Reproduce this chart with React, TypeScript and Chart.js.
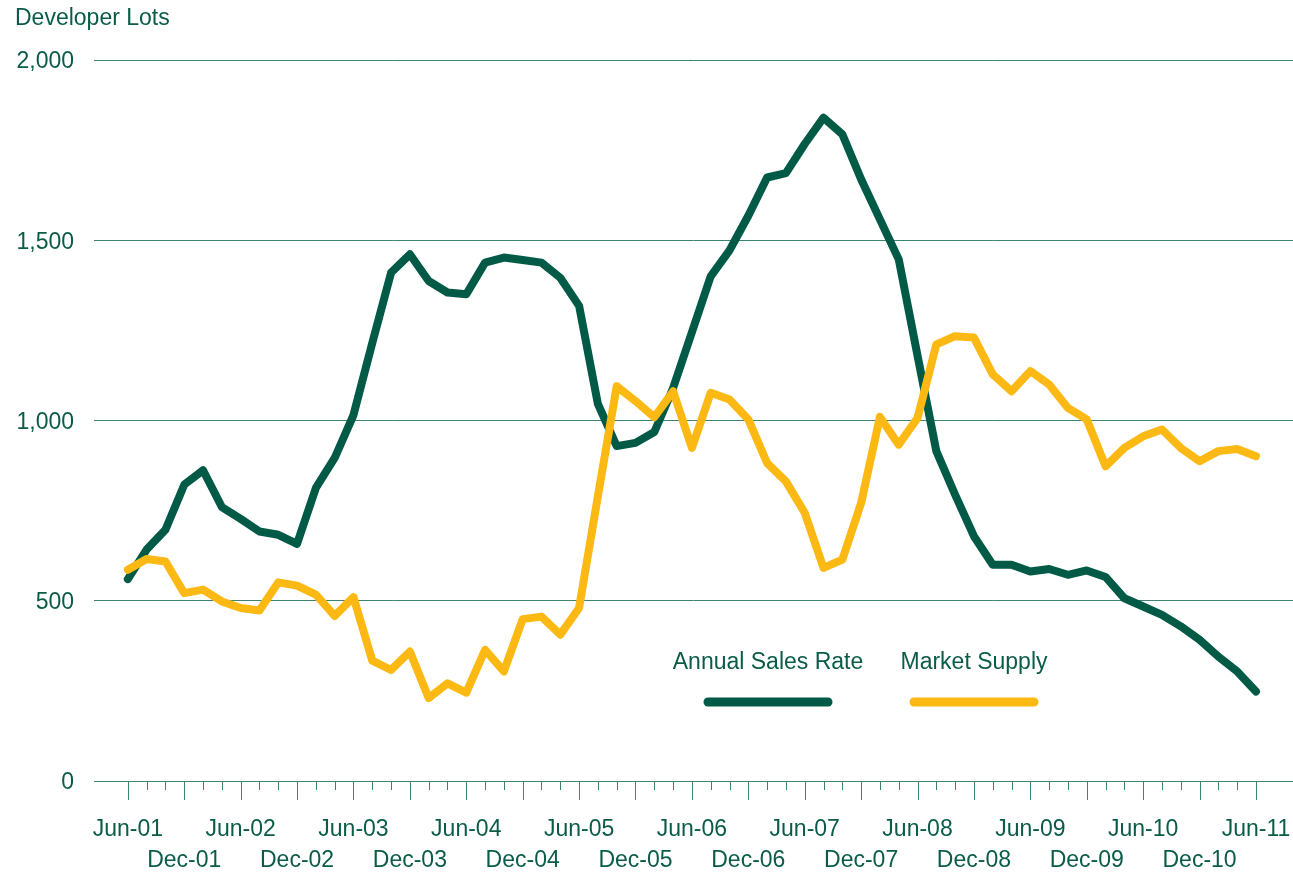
import React, { useEffect, useRef } from 'react';
import { Chart, registerables } from 'chart.js';

Chart.register(...registerables);

const periods = [
  'Jun-01', 'Aug-01', 'Oct-01', 'Dec-01', 'Feb-02', 'Apr-02',
  'Jun-02', 'Aug-02', 'Oct-02', 'Dec-02', 'Feb-03', 'Apr-03',
  'Jun-03', 'Aug-03', 'Oct-03', 'Dec-03', 'Feb-04', 'Apr-04',
  'Jun-04', 'Aug-04', 'Oct-04', 'Dec-04', 'Feb-05', 'Apr-05',
  'Jun-05', 'Aug-05', 'Oct-05', 'Dec-05', 'Feb-06', 'Apr-06',
  'Jun-06', 'Aug-06', 'Oct-06', 'Dec-06', 'Feb-07', 'Apr-07',
  'Jun-07', 'Aug-07', 'Oct-07', 'Dec-07', 'Feb-08', 'Apr-08',
  'Jun-08', 'Aug-08', 'Oct-08', 'Dec-08', 'Feb-09', 'Apr-09',
  'Jun-09', 'Aug-09', 'Oct-09', 'Dec-09', 'Feb-10', 'Apr-10',
  'Jun-10', 'Aug-10', 'Oct-10', 'Dec-10', 'Feb-11', 'Apr-11',
  'Jun-11',
];

const annualSalesRate = [
  560, 642, 697, 822, 862, 760, 727, 692, 683, 658,
  813, 896, 1015, 1215, 1410, 1461, 1387, 1355, 1350, 1438,
  1452, 1445, 1438, 1396, 1318, 1046, 929, 938, 968, 1090,
  1245, 1400, 1472, 1568, 1674, 1686, 1767, 1840, 1794, 1669,
  1558, 1447, 1180, 915, 794, 679, 600, 600, 581, 588,
  572, 584, 566, 507, 484, 461, 429, 392, 345, 304,
  248,
];

const marketSupply = [
  586, 616, 609, 521, 531, 498, 480, 473, 551, 542,
  517, 458, 510, 334, 308, 359, 230, 271, 245, 364,
  304, 449, 456, 406, 480, 790, 1095, 1054, 1009, 1081,
  924, 1077, 1058, 1003, 882, 831, 744, 591, 614, 771,
  1010, 933, 1007, 1211, 1234, 1230, 1128, 1081, 1137, 1100,
  1035, 1003, 873, 924, 956, 975, 924, 887, 915, 921,
  901,
];

const yTicks = [0, 500, 1000, 1500, 2000];

const GREEN = '#005A46';
const YELLOW = '#FDB913';
const TEXT = '#0A5C48';
const GRID = '#3E8272';
const FONT = "'Liberation Sans', Arial, sans-serif";
const FS = 23;

const tickMarksPlugin = {
  id: 'tickMarks',
  afterDraw(chart: any) {
    const xs = chart.scales.x;
    const ctx = chart.ctx;
    const y0 = chart.chartArea.bottom;
    ctx.save();
    ctx.strokeStyle = GRID;
    ctx.lineWidth = 1;
    ctx.beginPath();
    xs.ticks.forEach((t: any) => {
      const px = Math.round(xs.getPixelForValue(t.value)) + 0.5;
      const len = t.value % 3 === 0 ? 19 : 9;
      ctx.moveTo(px, y0);
      ctx.lineTo(px, y0 + len);
    });
    ctx.stroke();
    ctx.restore();
  },
};

const legendCenters = [768, 974];

const customLegendPlugin = {
  id: 'customLegend',
  afterDraw(chart: any) {
    const ctx = chart.ctx;
    ctx.save();
    ctx.font = `${FS}px ${FONT}`;
    ctx.textAlign = 'center';
    ctx.textBaseline = 'middle';
    chart.data.datasets.forEach((ds: any, i: number) => {
      const cx = legendCenters[i];
      ctx.fillStyle = TEXT;
      ctx.fillText(ds.label, cx, 663);
      ctx.strokeStyle = ds.borderColor;
      ctx.lineWidth = 9;
      ctx.lineCap = 'round';
      ctx.beginPath();
      ctx.moveTo(cx - 60, 702);
      ctx.lineTo(cx + 60, 702);
      ctx.stroke();
    });
    ctx.restore();
  },
};

export default function App() {
  const canvasRef = useRef<HTMLCanvasElement | null>(null);

  useEffect(() => {
    if (!canvasRef.current) return;
    Chart.defaults.font.family = FONT;
    const chart = new Chart(canvasRef.current, {
      type: 'line',
      data: {
        datasets: [
          {
            label: 'Annual Sales Rate',
            data: annualSalesRate.map((v, i) => ({ x: i, y: v })),
            borderColor: GREEN,
            backgroundColor: GREEN,
            borderWidth: 8,
            pointRadius: 0,
            tension: 0,
            borderJoinStyle: 'round',
            borderCapStyle: 'round',
            order: 1,
          },
          {
            label: 'Market Supply',
            data: marketSupply.map((v, i) => ({ x: i, y: v })),
            borderColor: YELLOW,
            backgroundColor: YELLOW,
            borderWidth: 8,
            pointRadius: 0,
            tension: 0,
            borderJoinStyle: 'round',
            borderCapStyle: 'round',
            order: 0,
          },
        ],
      },
      options: {
        animation: false,
        responsive: true,
        maintainAspectRatio: false,
        layout: { padding: { left: 15, top: 0, right: 0, bottom: 0 } },
        plugins: {
          legend: { display: false },
          tooltip: { enabled: false },
          title: {
            display: true,
            text: 'Developer Lots',
            align: 'start',
            color: TEXT,
            font: { size: FS, weight: 'normal', family: FONT, lineHeight: 1.2 },
            padding: { top: 4.5, bottom: 27.9 },
          },
        },
        scales: {
          x: {
            type: 'linear',
            min: -1.8,
            max: 61.97,
            grid: { drawOnChartArea: false, drawTicks: false },
            border: { display: true, color: GRID, width: 1 },
            afterBuildTicks: (scale: any) => {
              scale.ticks = periods.map((_, i) => ({ value: i }));
            },
            afterFit: (scale: any) => {
              scale.height = 94;
              scale.paddingLeft = 0;
              scale.paddingRight = 0;
            },
            ticks: {
              autoSkip: false,
              maxRotation: 0,
              minRotation: 0,
              padding: 33.5,
              color: TEXT,
              font: { size: FS, family: FONT, lineHeight: 1.326 },
              callback: (value: any) => {
                const i = Number(value);
                if (i % 6 === 0) return [periods[i]];
                if (i % 6 === 3) return ['', periods[i]];
                return '';
              },
            },
          },
          y: {
            min: 0,
            max: 2000,
            afterBuildTicks: (scale: any) => {
              scale.ticks = yTicks.map((v) => ({ value: v }));
            },
            afterFit: (scale: any) => {
              scale.width = 79;
              scale.paddingTop = 0;
              scale.paddingBottom = 0;
            },
            grid: { color: GRID, lineWidth: 1, drawTicks: false },
            border: { display: false },
            ticks: {
              padding: 20,
              labelOffset: 2,
              color: TEXT,
              font: { size: FS, family: FONT },
              callback: (value: any) => Number(value).toLocaleString('en-US'),
            },
          },
        },
      },
      plugins: [tickMarksPlugin, customLegendPlugin],
    } as any);
    return () => chart.destroy();
  }, []);

  return (
    <div style={{ position: 'fixed', left: 0, top: 0, width: 1293, height: 875, background: '#fff' }}>
      <canvas ref={canvasRef} />
    </div>
  );
}
